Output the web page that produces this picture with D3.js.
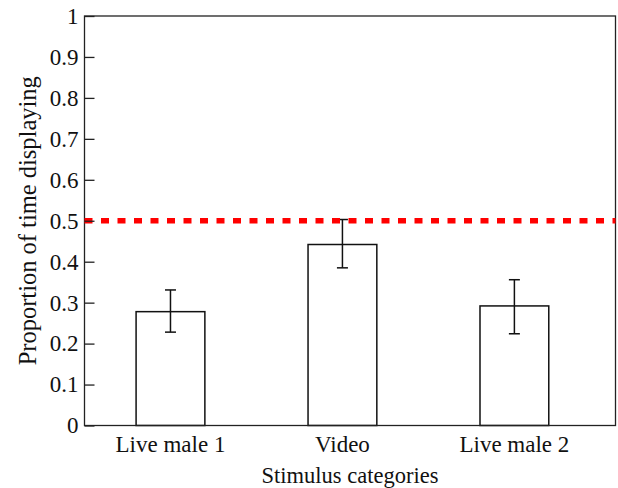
<!DOCTYPE html>
<html>
<head>
<meta charset="utf-8">
<script src="https://cdn.jsdelivr.net/npm/d3@7"></script>
<style>
  body { margin: 0; background: #fff; }
  svg text { font-family: "Liberation Serif", serif; fill: #111; }
</style>
</head>
<body>
<svg id="chart" width="618" height="488"></svg>
<script>
var categories = ["Live male 1", "Video", "Live male 2"];
var means = [0.278, 0.442, 0.292];
var errUpper = [0.331, 0.503, 0.356];
var errLower = [0.228, 0.385, 0.224];
var yTicks = [0, 0.1, 0.2, 0.3, 0.4, 0.5, 0.6, 0.7, 0.8, 0.9, 1];
var refLevel = 0.5;

var svg = d3.select("#chart");
// plot box edges (avoid the name "top", it is window.top)
var pLeft = 84.5, pRight = 615.5, pTop = 16, pBottom = 425.5;

var x = d3.scaleLinear().domain([0.5, 3.588]).range([pLeft, pRight]);
var y = d3.scaleLinear().domain([0, 1]).range([pBottom, pTop]);
var barW = x(1.2) - x(0.8);

// bars
svg.selectAll("rect.bar").data(means).enter().append("rect")
  .attr("class", "bar")
  .attr("x", (d, i) => x(i + 1) - barW / 2)
  .attr("y", d => y(d))
  .attr("width", barW)
  .attr("height", d => y(0) - y(d))
  .attr("fill", "#fff")
  .attr("stroke", "#111")
  .attr("stroke-width", 1.5);

// error bars
var eb = svg.selectAll("g.err").data(means).enter().append("g").attr("class", "err");
eb.append("line")
  .attr("x1", (d, i) => x(i + 1)).attr("x2", (d, i) => x(i + 1))
  .attr("y1", (d, i) => y(errUpper[i])).attr("y2", (d, i) => y(errLower[i]))
  .attr("stroke", "#111").attr("stroke-width", 1.5);
eb.append("line")
  .attr("x1", (d, i) => x(i + 1) - 5.5).attr("x2", (d, i) => x(i + 1) + 5.5)
  .attr("y1", (d, i) => y(errUpper[i])).attr("y2", (d, i) => y(errUpper[i]))
  .attr("stroke", "#111").attr("stroke-width", 1.5);
eb.append("line")
  .attr("x1", (d, i) => x(i + 1) - 5.5).attr("x2", (d, i) => x(i + 1) + 5.5)
  .attr("y1", (d, i) => y(errLower[i])).attr("y2", (d, i) => y(errLower[i]))
  .attr("stroke", "#111").attr("stroke-width", 1.5);

// frame
svg.append("rect")
  .attr("x", pLeft).attr("y", pTop)
  .attr("width", pRight - pLeft).attr("height", pBottom - pTop)
  .attr("fill", "none").attr("stroke", "#222").attr("stroke-width", 1.3);

// reference line
svg.append("line")
  .attr("x1", pLeft).attr("x2", pRight)
  .attr("y1", y(refLevel)).attr("y2", y(refLevel))
  .attr("stroke", "#ff0000").attr("stroke-width", 5.5)
  .attr("stroke-dasharray", "8,8.5");

// y axis (ticks inside)
var yAxis = d3.axisLeft(y).tickValues(yTicks).tickSize(-10).tickPadding(6)
  .tickFormat(d => d === 0 || d === 1 ? String(d) : d3.format(".1f")(d));
var ga = svg.append("g").attr("transform", "translate(" + pLeft + ",0)").call(yAxis);
ga.select(".domain").remove();
ga.selectAll(".tick line").attr("stroke", "#222").attr("stroke-width", 1.3);
ga.selectAll(".tick text")
  .style("font-family", "'Liberation Serif', serif")
  .style("font-size", "23px")
  .attr("fill", "#111");

// x labels
svg.selectAll("text.xlab").data(categories).enter().append("text")
  .attr("class", "xlab")
  .attr("x", (d, i) => x(i + 1))
  .attr("y", 451.5)
  .attr("text-anchor", "middle")
  .style("font-size", "23px")
  .text(d => d);

svg.append("text")
  .attr("x", (pLeft + pRight) / 2)
  .attr("y", 483)
  .attr("text-anchor", "middle")
  .style("font-size", "22.5px")
  .text("Stimulus categories");

svg.append("text")
  .attr("transform", "translate(36," + ((pTop + pBottom) / 2) + ") rotate(-90)")
  .attr("text-anchor", "middle")
  .style("font-size", "24.5px")
  .text("Proportion of time displaying");
</script>
</body>
</html>
